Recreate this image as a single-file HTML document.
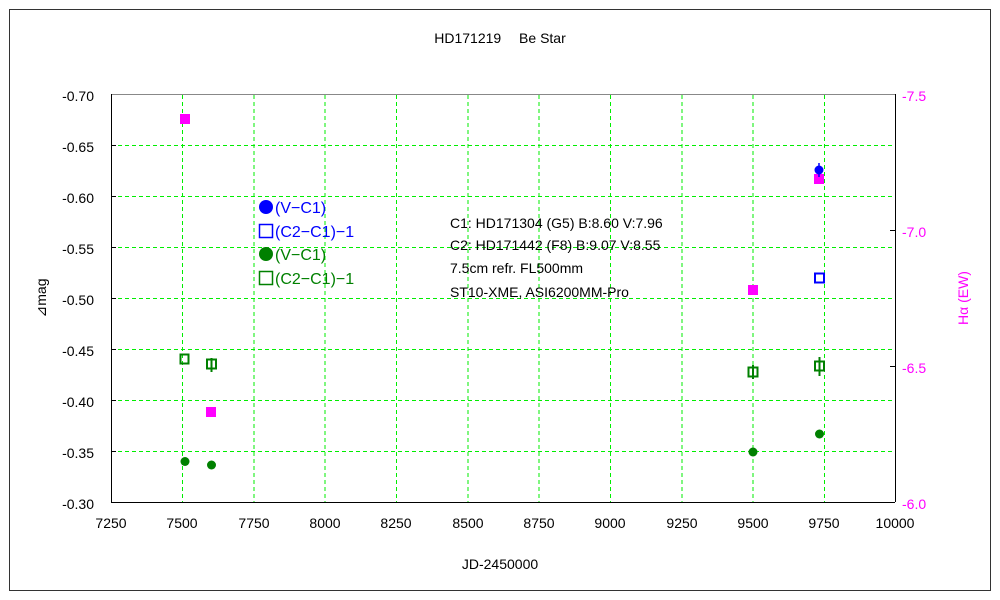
<!DOCTYPE html><html><head><style>body{margin:0;background:#fff}svg{display:block}text{font-family:"Liberation Sans",sans-serif}</style></head><body>
<svg width="1000" height="600" viewBox="0 0 1000 600">
<rect x="0" y="0" width="1000" height="600" fill="#fff"/>
<rect x="9.5" y="9.5" width="981" height="581" fill="none" stroke="#333" stroke-width="1"/>
<text x="500" y="43" font-size="14" text-anchor="middle">HD171219　 Be Star</text>
<g stroke="#00ee00" stroke-dasharray="4,3" stroke-width="1">
<line x1="182.5" y1="95" x2="182.5" y2="502"/><line x1="254" y1="95" x2="254" y2="502"/><line x1="325" y1="95" x2="325" y2="502"/><line x1="396.5" y1="95" x2="396.5" y2="502"/><line x1="468" y1="95" x2="468" y2="502"/><line x1="539" y1="95" x2="539" y2="502"/><line x1="610.5" y1="95" x2="610.5" y2="502"/><line x1="682" y1="95" x2="682" y2="502"/><line x1="753" y1="95" x2="753" y2="502"/><line x1="824.5" y1="95" x2="824.5" y2="502"/>
<line x1="111" y1="145.5" x2="895" y2="145.5"/><line x1="111" y1="196.5" x2="895" y2="196.5"/><line x1="111" y1="247.5" x2="895" y2="247.5"/><line x1="111" y1="298.5" x2="895" y2="298.5"/><line x1="111" y1="349.5" x2="895" y2="349.5"/><line x1="111" y1="400.5" x2="895" y2="400.5"/><line x1="111" y1="451.5" x2="895" y2="451.5"/>
</g>
<line x1="111" y1="94.5" x2="895" y2="94.5" stroke="#888"/>
<line x1="111.5" y1="94" x2="111.5" y2="502" stroke="#000"/>
<line x1="111" y1="502.5" x2="895" y2="502.5" stroke="#000"/>
<line x1="895.5" y1="94" x2="895.5" y2="502" stroke="#000"/>
<g stroke="#000">
<line x1="111" y1="145.5" x2="116" y2="145.5"/><line x1="111" y1="196.5" x2="116" y2="196.5"/><line x1="111" y1="247.5" x2="116" y2="247.5"/><line x1="111" y1="298.5" x2="116" y2="298.5"/><line x1="111" y1="349.5" x2="116" y2="349.5"/><line x1="111" y1="400.5" x2="116" y2="400.5"/><line x1="111" y1="451.5" x2="116" y2="451.5"/>
<line x1="890" y1="230.5" x2="895" y2="230.5"/><line x1="890" y1="366.5" x2="895" y2="366.5"/>
</g>
<g font-size="14" text-anchor="end">
<text x="94" y="101">-0.70</text><text x="94" y="152">-0.65</text><text x="94" y="203">-0.60</text><text x="94" y="254">-0.55</text><text x="94" y="305">-0.50</text><text x="94" y="356">-0.45</text><text x="94" y="407">-0.40</text><text x="94" y="458">-0.35</text><text x="94" y="509">-0.30</text>
</g>
<g font-size="14" fill="#ff00ff">
<text x="902" y="101">-7.5</text><text x="902" y="237">-7.0</text><text x="902" y="373">-6.5</text><text x="902" y="509">-6.0</text>
</g>
<g font-size="14" text-anchor="middle">
<text x="111" y="528">7250</text><text x="182" y="528">7500</text><text x="254" y="528">7750</text><text x="325" y="528">8000</text><text x="396" y="528">8250</text><text x="468" y="528">8500</text><text x="539" y="528">8750</text><text x="610" y="528">9000</text><text x="682" y="528">9250</text><text x="753" y="528">9500</text><text x="824" y="528">9750</text><text x="895" y="528">10000</text>
<text x="500" y="569">JD-2450000</text>
</g>
<text x="46" y="298" font-size="14" text-anchor="middle" transform="rotate(-90 46 298)">⊿mag</text>
<text x="968" y="298" font-size="14" fill="#ff00ff" text-anchor="middle" transform="rotate(-90 968 298)">Hα (EW)</text>
<g font-size="16">
<circle cx="266" cy="207" r="7" fill="#0000ff"/><text x="275" y="213" fill="#0000ff">(V−C1)</text>
<rect x="259.5" y="224.5" width="13" height="13" fill="none" stroke="#0000ff" stroke-width="1.5"/><text x="275" y="237" fill="#0000ff">(C2−C1)−1</text>
<circle cx="266" cy="254" r="7" fill="#008000"/><text x="275" y="260" fill="#008000">(V−C1)</text>
<rect x="259.5" y="271.5" width="13" height="13" fill="none" stroke="#008000" stroke-width="1.5"/><text x="275" y="284" fill="#008000">(C2−C1)−1</text>
</g>
<g font-size="14">
<text x="450" y="228">C1: HD171304 (G5)  B:8.60  V:7.96</text>
<text x="450" y="250">C2: HD171442 (F8)  B:9.07  V:8.55</text>
<text x="450" y="273">7.5cm refr. FL500mm</text>
<text x="450" y="297">ST10-XME, ASI6200MM-Pro</text>
</g>
<g fill="#ff00ff">
<rect x="180" y="114" width="10" height="10"/><rect x="206" y="407" width="10" height="10"/><rect x="748" y="285" width="10" height="10"/><rect x="814" y="174" width="10" height="10"/>
</g>
<circle cx="819" cy="170" r="4.5" fill="#0000ff"/><line x1="819" y1="163" x2="819" y2="177" stroke="#0000ff" stroke-width="1.5"/>
<rect x="815" y="273.5" width="9" height="9" fill="none" stroke="#0000ff" stroke-width="2"/>
<g fill="none" stroke="#008000" stroke-width="2">
<rect x="180.5" y="354.5" width="8" height="9"/><rect x="207" y="359.5" width="9" height="9"/><rect x="748.5" y="367.5" width="9" height="9"/><rect x="815" y="361.5" width="9" height="9"/>
<line x1="211.5" y1="358" x2="211.5" y2="372"/><line x1="753" y1="365" x2="753" y2="379"/><line x1="819.5" y1="357" x2="819.5" y2="376"/>
</g>
<g fill="#008000">
<circle cx="185" cy="461.5" r="4.5"/><circle cx="211.5" cy="465" r="4.5"/><circle cx="753" cy="452" r="4.5"/><circle cx="819.5" cy="434" r="4.5"/>
</g>
</svg></body></html>
